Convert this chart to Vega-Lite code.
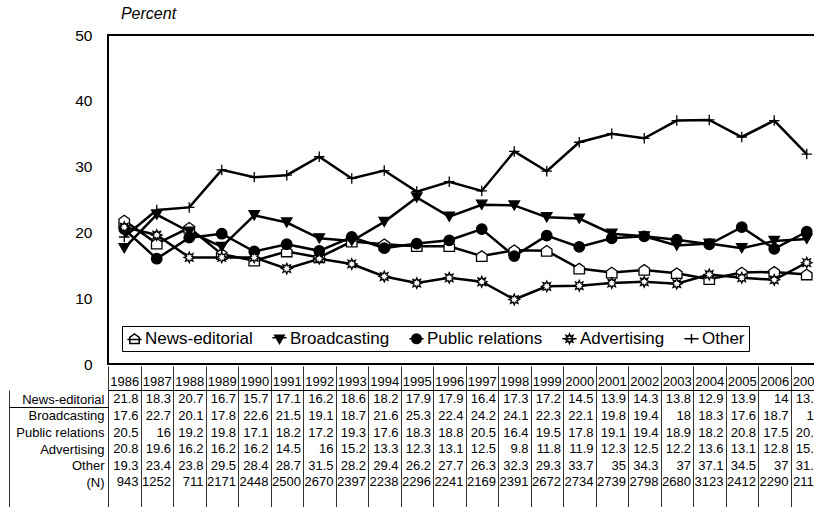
{
  "$schema": "https://vega.github.io/schema/vega-lite/v6.json",
  "padding": {"left": 8, "top": 4, "right": 0, "bottom": 0},
  "background": "white",
  "spacing": 26,
  "bounds": "flush",
  "config": {"font": "Liberation Sans", "text": {"font": "Liberation Sans"}},
  "datasets": {
    "jobs": [
      {"year": 1986, "News-editorial": 21.8, "Broadcasting": 17.6, "Public relations": 20.5, "Advertising": 20.8, "Other": 19.3, "N": 943},
      {"year": 1987, "News-editorial": 18.3, "Broadcasting": 22.7, "Public relations": 16, "Advertising": 19.6, "Other": 23.4, "N": 1252},
      {"year": 1988, "News-editorial": 20.7, "Broadcasting": 20.1, "Public relations": 19.2, "Advertising": 16.2, "Other": 23.8, "N": 711},
      {"year": 1989, "News-editorial": 16.7, "Broadcasting": 17.8, "Public relations": 19.8, "Advertising": 16.2, "Other": 29.5, "N": 2171},
      {"year": 1990, "News-editorial": 15.7, "Broadcasting": 22.6, "Public relations": 17.1, "Advertising": 16.2, "Other": 28.4, "N": 2448},
      {"year": 1991, "News-editorial": 17.1, "Broadcasting": 21.5, "Public relations": 18.2, "Advertising": 14.5, "Other": 28.7, "N": 2500},
      {"year": 1992, "News-editorial": 16.2, "Broadcasting": 19.1, "Public relations": 17.2, "Advertising": 16, "Other": 31.5, "N": 2670},
      {"year": 1993, "News-editorial": 18.6, "Broadcasting": 18.7, "Public relations": 19.3, "Advertising": 15.2, "Other": 28.2, "N": 2397},
      {"year": 1994, "News-editorial": 18.2, "Broadcasting": 21.6, "Public relations": 17.6, "Advertising": 13.3, "Other": 29.4, "N": 2238},
      {"year": 1995, "News-editorial": 17.9, "Broadcasting": 25.3, "Public relations": 18.3, "Advertising": 12.3, "Other": 26.2, "N": 2296},
      {"year": 1996, "News-editorial": 17.9, "Broadcasting": 22.4, "Public relations": 18.8, "Advertising": 13.1, "Other": 27.7, "N": 2241},
      {"year": 1997, "News-editorial": 16.4, "Broadcasting": 24.2, "Public relations": 20.5, "Advertising": 12.5, "Other": 26.3, "N": 2169},
      {"year": 1998, "News-editorial": 17.3, "Broadcasting": 24.1, "Public relations": 16.4, "Advertising": 9.8, "Other": 32.3, "N": 2391},
      {"year": 1999, "News-editorial": 17.2, "Broadcasting": 22.3, "Public relations": 19.5, "Advertising": 11.8, "Other": 29.3, "N": 2672},
      {"year": 2000, "News-editorial": 14.5, "Broadcasting": 22.1, "Public relations": 17.8, "Advertising": 11.9, "Other": 33.7, "N": 2734},
      {"year": 2001, "News-editorial": 13.9, "Broadcasting": 19.8, "Public relations": 19.1, "Advertising": 12.3, "Other": 35, "N": 2739},
      {"year": 2002, "News-editorial": 14.3, "Broadcasting": 19.4, "Public relations": 19.4, "Advertising": 12.5, "Other": 34.3, "N": 2798},
      {"year": 2003, "News-editorial": 13.8, "Broadcasting": 18, "Public relations": 18.9, "Advertising": 12.2, "Other": 37, "N": 2680},
      {"year": 2004, "News-editorial": 12.9, "Broadcasting": 18.3, "Public relations": 18.2, "Advertising": 13.6, "Other": 37.1, "N": 3123},
      {"year": 2005, "News-editorial": 13.9, "Broadcasting": 17.6, "Public relations": 20.8, "Advertising": 13.1, "Other": 34.5, "N": 2412},
      {"year": 2006, "News-editorial": 14, "Broadcasting": 18.7, "Public relations": 17.5, "Advertising": 12.8, "Other": 37, "N": 2290},
      {"year": 2007, "News-editorial": 13.6, "Broadcasting": 19, "Public relations": 20.1, "Advertising": 15.4, "Other": 31.9, "N": 2112}
    ]
  },
  "vconcat": [
    {
      "width": 715,
      "height": 329,
      "view": {"stroke": "black", "strokeWidth": 2},
      "data": {"name": "jobs"},
      "transform": [{"fold": ["News-editorial", "Broadcasting", "Public relations", "Advertising", "Other"], "as": ["series", "value"]}],
      "encoding": {
        "x": {"field": "year", "type": "ordinal", "scale": {"type": "point", "padding": 0.5}, "axis": null},
        "y": {
          "field": "value", "type": "quantitative",
          "scale": {"domain": [0, 50], "nice": false},
          "axis": {
            "values": [0, 10, 20, 30, 40, 50], "domain": false, "ticks": false, "grid": false,
            "labelFontSize": 15.5, "labelPadding": 16, "labelColor": "black",
            "title": "Percent", "titleAngle": 0, "titleX": 40, "titleY": -22, "titleAlign": "center", "titleBaseline": "middle",
            "titleFontStyle": "italic", "titleFontWeight": "normal", "titleFontSize": 16, "titleColor": "black"
          }
        }
      },
      "resolve": {"scale": {"shape": "independent", "fill": "independent", "stroke": "independent"}},
      "layer": [
        {
          "mark": {"type": "line", "color": "black", "strokeWidth": 2.5},
          "encoding": {"detail": {"field": "series"}}
        },
        {
          "mark": {"type": "point", "filled": true, "stroke": "black", "strokeWidth": 1.3, "size": 110, "opacity": 1},
          "encoding": {
            "shape": {
              "field": "series", "type": "nominal", "legend": null,
              "scale": {
                "domain": ["News-editorial", "Broadcasting", "Public relations", "Advertising", "Other"],
                "range": [
                  "M-1,-0.3L0,-1L1,-0.3L1,1L-1,1Z",
                  "triangle-down",
                  "circle",
                  "M0,-1L0.21,-0.51L0.71,-0.71L0.51,-0.21L1,0L0.51,0.21L0.71,0.71L0.21,0.51L0,1L-0.21,0.51L-0.71,0.71L-0.51,0.21L-1,0L-0.51,-0.21L-0.71,-0.71L-0.21,-0.51Z",
                  "M-1,0L1,0M0,-1L0,1"
                ]
              }
            },
            "fill": {
              "field": "series", "type": "nominal", "legend": null,
              "scale": {
                "domain": ["News-editorial", "Broadcasting", "Public relations", "Advertising", "Other"],
                "range": ["white", "black", "black", "white", "transparent"]
              }
            }
          }
        },
        {
          "mark": {"type": "point", "filled": true, "size": 90, "opacity": 0},
          "encoding": {
            "shape": {
              "field": "series", "type": "nominal",
              "scale": {
                "domain": ["News-editorial", "Broadcasting", "Public relations", "Advertising", "Other"],
                "range": [
                  "M-1,-0.3L0,-1L1,-0.3L1,1L-1,1ZM-1.5,0.15L1.5,0.15",
                  "M-1,-0.75L1,-0.75L0,1ZM-1.5,-0.2L1.5,-0.2",
                  "M-1,0A1,1,0,1,0,1,0A1,1,0,1,0,-1,0ZM-1.5,0L1.5,0",
                  "M0,-1L0.21,-0.51L0.71,-0.71L0.51,-0.21L1,0L0.51,0.21L0.71,0.71L0.21,0.51L0,1L-0.21,0.51L-0.71,0.71L-0.51,0.21L-1,0L-0.51,-0.21L-0.71,-0.71L-0.21,-0.51ZM-1.5,0L1.5,0",
                  "M-1.5,0L1.5,0M0,-1L0,1"
                ]
              },
              "legend": {
                "title": null, "orient": "none", "legendX": 14, "legendY": 291, "direction": "horizontal",
                "strokeColor": "black", "fillColor": "white", "padding": 4, "columnPadding": 16,
                "labelFontSize": 17, "labelOffset": 2, "labelColor": "black", "symbolSize": 90,
                "symbolStrokeWidth": 1.5, "symbolOpacity": 1
              }
            },
            "fill": {
              "field": "series", "type": "nominal",
              "scale": {
                "domain": ["News-editorial", "Broadcasting", "Public relations", "Advertising", "Other"],
                "range": ["white", "black", "black", "white", "transparent"]
              },
              "legend": {
                "title": null, "orient": "none", "legendX": 14, "legendY": 291, "direction": "horizontal",
                "strokeColor": "black", "fillColor": "white", "padding": 4, "columnPadding": 16,
                "labelFontSize": 17, "labelOffset": 2, "labelColor": "black", "symbolSize": 90,
                "symbolStrokeWidth": 1.5, "symbolOpacity": 1
              }
            },
            "stroke": {
              "field": "series", "type": "nominal",
              "scale": {
                "domain": ["News-editorial", "Broadcasting", "Public relations", "Advertising", "Other"],
                "range": ["black", "black", "black", "black", "black"]
              },
              "legend": {
                "title": null, "orient": "none", "legendX": 14, "legendY": 291, "direction": "horizontal",
                "strokeColor": "black", "fillColor": "white", "padding": 4, "columnPadding": 16,
                "labelFontSize": 17, "labelOffset": 2, "labelColor": "black", "symbolSize": 90,
                "symbolStrokeWidth": 1.5, "symbolOpacity": 1
              }
            }
          }
        }
      ]
    },
    {
      "width": 715,
      "height": 118,
      "view": {"stroke": null},
      "data": {"name": "jobs"},
      "layer": [
        {
          "transform": [{"fold": ["News-editorial", "Broadcasting", "Public relations", "Advertising", "Other"], "as": ["series", "value"]}],
          "mark": {"type": "text", "align": "right", "baseline": "middle", "dx": -2, "dy": 1, "fontSize": 13, "color": "black"},
          "encoding": {
            "x": {
              "field": "year", "type": "ordinal", "bandPosition": 1,
              "scale": {"type": "band", "paddingInner": 0, "paddingOuter": 0},
              "axis": {
                "orient": "top", "tickBand": "extent", "ticks": true, "tickSize": 24, "tickColor": "#333", "tickWidth": 1,
                "domain": true, "domainColor": "black", "domainWidth": 1,
                "grid": true, "gridColor": "#333", "gridOpacity": 1, "gridWidth": 1,
                "labelFontSize": 13, "labelColor": "black", "labelPadding": -22, "labelAngle": 0,
                "labelOverlap": false, "labelBound": false, "title": null
              }
            },
            "y": {
              "field": "series", "type": "nominal",
              "scale": {"type": "band", "domain": ["News-editorial", "Broadcasting", "Public relations", "Advertising", "Other", "(N)"], "paddingInner": 0, "paddingOuter": 0.55, "align": 0},
              "axis": {
                "orient": "left", "offset": 99, "domain": true, "domainColor": "#333", "domainWidth": 1,
                "ticks": true, "tickBand": "extent", "tickSize": -99, "tickColor": "black", "tickWidth": 1,
                "tickOpacity": {"condition": {"test": "datum.value === 'News-editorial'", "value": 1}, "value": 0},
                "labelPadding": 4, "labelFontSize": 13, "labelColor": "black", "labelOffset": 1, "title": null, "grid": false
              }
            },
            "text": {"field": "value", "type": "quantitative", "format": ""}
          }
        },
        {
          "mark": {"type": "text", "align": "right", "baseline": "middle", "dx": -2, "dy": 1, "fontSize": 13, "color": "black"},
          "encoding": {
            "x": {"field": "year", "type": "ordinal", "bandPosition": 1},
            "y": {"datum": "(N)", "type": "nominal"},
            "text": {"field": "N", "type": "quantitative", "format": ""}
          }
        }
      ]
    }
  ]
}
